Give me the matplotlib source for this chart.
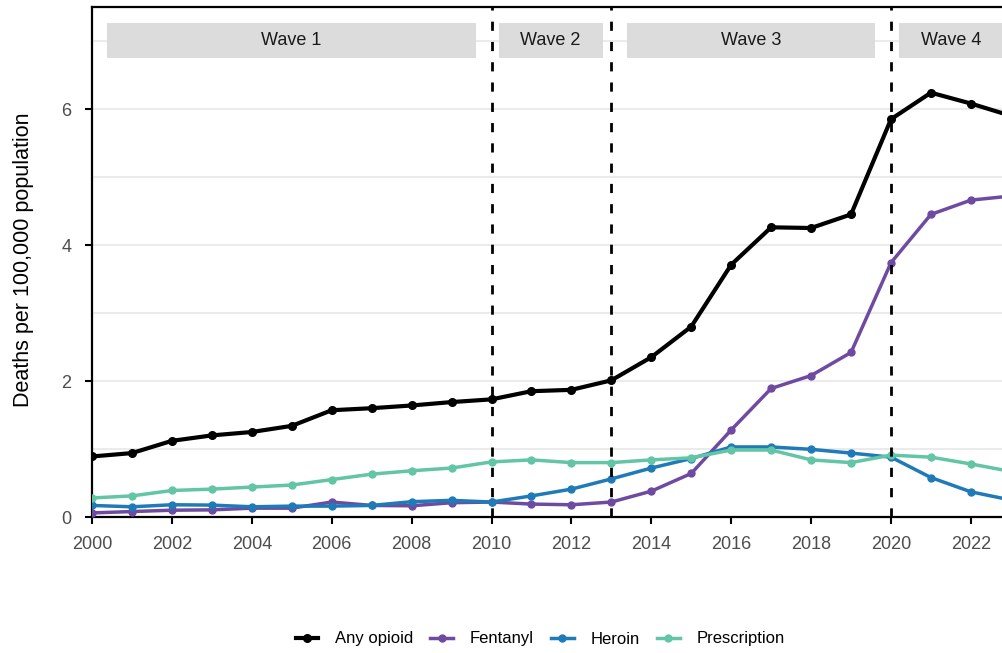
import matplotlib
matplotlib.use("Agg")
import matplotlib.pyplot as plt
from matplotlib.patches import Rectangle

plt.rcParams['font.family'] = ['Liberation Sans', 'DejaVu Sans']

# ---------------- data ----------------
years = list(range(2000, 2024))
any_opioid = [0.89, 0.94, 1.12, 1.20, 1.25, 1.34, 1.57, 1.60, 1.64, 1.69, 1.73, 1.85,
              1.87, 2.01, 2.35, 2.80, 3.71, 4.26, 4.25, 4.45, 5.85, 6.24, 6.08, 5.90]
fentanyl = [0.06, 0.08, 0.10, 0.105, 0.13, 0.13, 0.22, 0.17, 0.165, 0.21, 0.22, 0.19,
            0.18, 0.22, 0.38, 0.64, 1.28, 1.89, 2.08, 2.42, 3.74, 4.45, 4.66, 4.72]
heroin = [0.17, 0.15, 0.18, 0.175, 0.15, 0.16, 0.16, 0.17, 0.225, 0.245, 0.22, 0.31,
          0.41, 0.56, 0.72, 0.86, 1.03, 1.03, 0.995, 0.94, 0.88, 0.58, 0.37, 0.25]
prescription = [0.28, 0.31, 0.39, 0.41, 0.44, 0.47, 0.55, 0.63, 0.68, 0.72, 0.81, 0.84,
                0.80, 0.80, 0.84, 0.87, 0.985, 0.985, 0.84, 0.80, 0.91, 0.88, 0.78, 0.67]
series_names = ["Any opioid", "Fentanyl", "Heroin", "Prescription"]
wave_labels = ["Wave 1", "Wave 2", "Wave 3", "Wave 4"]
wave_breaks = [2010, 2013, 2020]
x_ticks = list(range(2000, 2023, 2))
y_ticks = [0, 2, 4, 6]
y_label = "Deaths per 100,000 population"

# ---------------- style ----------------
colors = ["#000000", "#6e4ba1", "#1f7ab8", "#62c5a5"]
widths = [3.0, 2.5, 2.5, 2.5]
msizes = [5.5, 5.0, 5.0, 5.0]
wave_box_spans = [(2000.37, 2009.6), (2010.18, 2012.78), (2013.38, 2019.6), (2020.2, 2023.6)]
wave_text_x = [None, None, None, 2021.5]

W, H = 1003, 653
fig = plt.figure(figsize=(W / 100, H / 100), dpi=100)
ax = fig.add_axes([92 / W, 136 / H, (W - 92) / W, 510 / H])
ax.set_xlim(2000, 2000 + (W - 92) / 39.95)
ax.set_ylim(0, 7.5)

# grid
for g in range(0, 8):
    ax.axhline(g, color="#ebebeb", lw=1.5, zorder=0)

all_series = [any_opioid, fentanyl, heroin, prescription]
for name, vals, c, lw, ms in zip(series_names, all_series, colors, widths, msizes):
    ax.plot(years, vals, color=c, lw=lw, marker="o", ms=ms, label=name, zorder=3,
            solid_joinstyle="round")

# wave strips
for (x0, x1), lab, tx in zip(wave_box_spans, wave_labels, wave_text_x):
    ax.add_patch(Rectangle((x0, 6.75), x1 - x0, 0.52, facecolor="#dcdcdc",
                           edgecolor="none", zorder=1))
    cx = tx if tx is not None else (x0 + x1) / 2
    ax.text(cx, 7.01, lab, ha="center", va="center", fontsize=13, color="#1a1a1a", zorder=2)

for b in wave_breaks:
    ax.axvline(b, color="black", lw=2.0, dashes=(3.3, 4.0), zorder=5)

ax.set_xticks(x_ticks)
ax.set_yticks(y_ticks)
ax.tick_params(axis="both", direction="out", length=5, width=1.5, color="black",
               labelcolor="#4d4d4d", labelsize=13)
ax.tick_params(axis="x", pad=9)
ax.tick_params(axis="y", pad=10)
for s in ["left", "bottom", "top"]:
    ax.spines[s].set_linewidth(1.6)
    ax.spines[s].set_color("black")
ax.spines["right"].set_visible(False)
ax.set_ylabel(y_label, fontsize=15.5, color="black")
ax.yaxis.set_label_coords(-0.064, 0.505)

handles, labels = ax.get_legend_handles_labels()
fig.legend(handles, labels, loc="center", bbox_to_anchor=(540 / W, 1 - 639 / H), ncol=4,
           frameon=False, fontsize=12, handlelength=1.35, handletextpad=1.0,
           columnspacing=1.05)

fig.savefig("out.png", dpi=100)
